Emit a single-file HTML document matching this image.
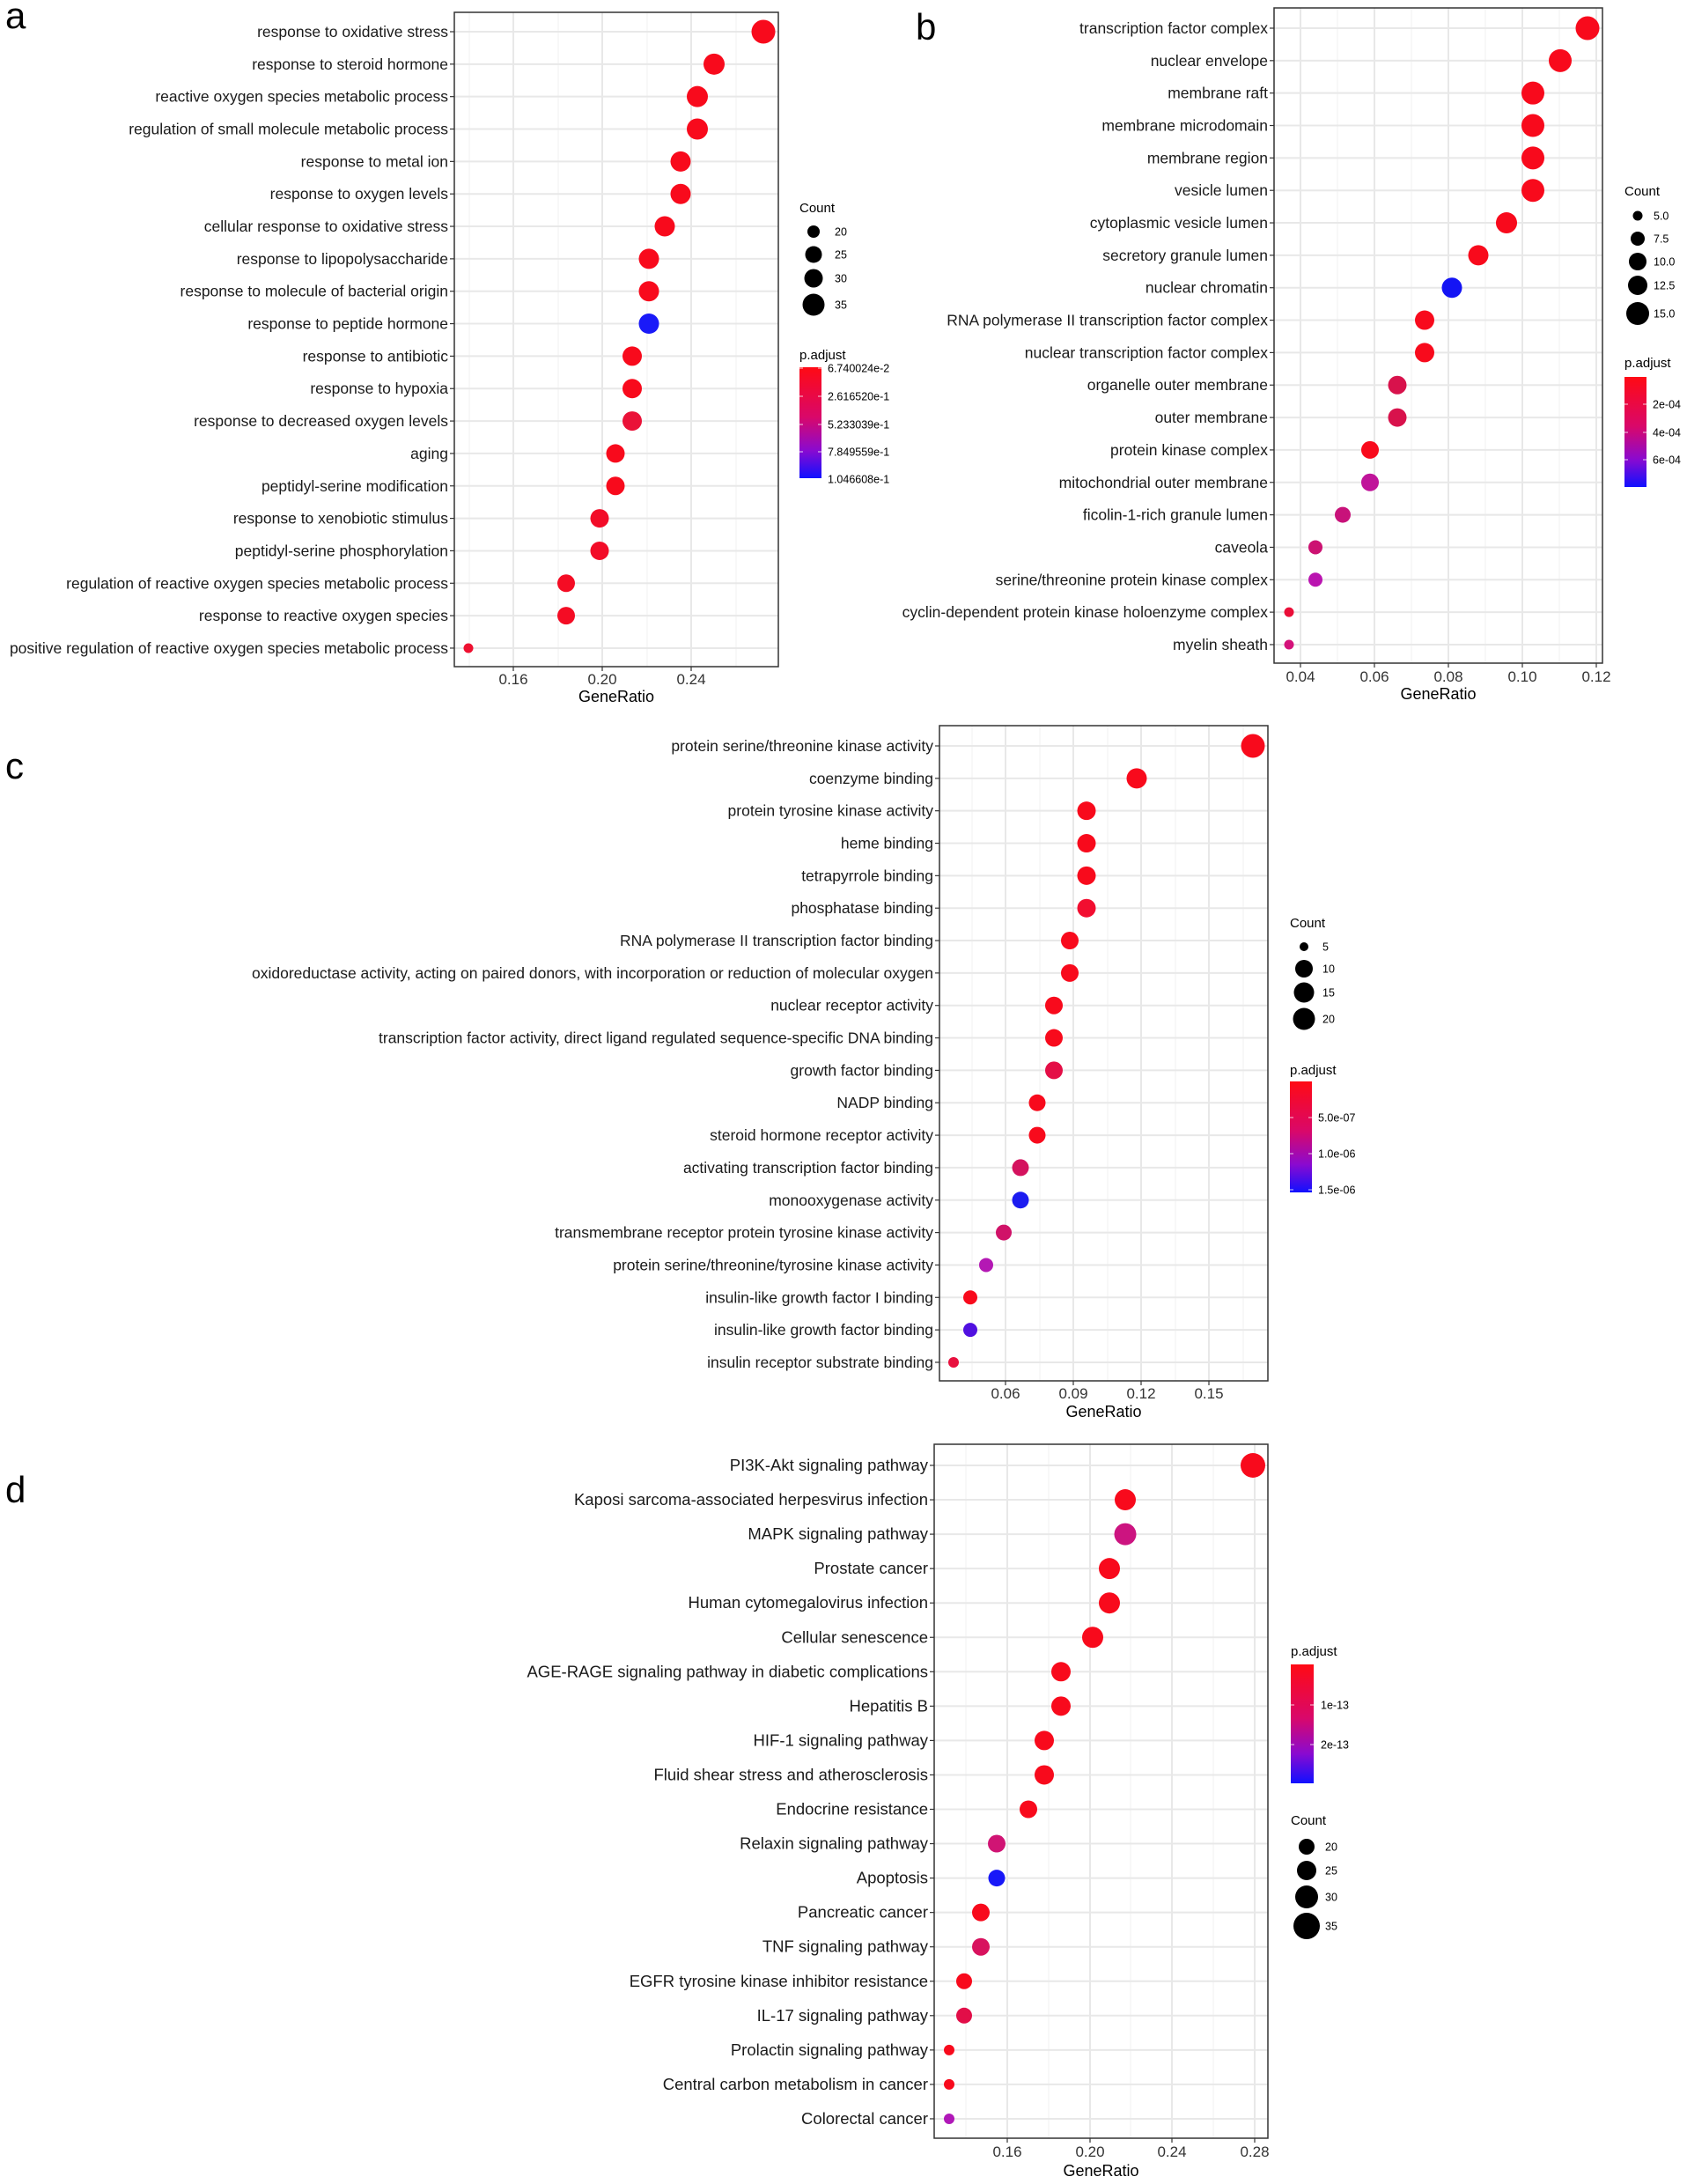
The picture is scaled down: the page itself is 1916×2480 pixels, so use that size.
<!DOCTYPE html>
<html><head><meta charset="utf-8"><style>
html,body{margin:0;padding:0;background:#fff;}
svg{display:block;font-family:"Liberation Sans",Arial,sans-serif;}
</style></head><body>
<svg id="s" width="1916" height="2480" viewBox="0 0 1916 2480" xmlns="http://www.w3.org/2000/svg">
<defs>
<linearGradient id="g" x1="0" y1="0" x2="0" y2="1">
<stop offset="0" stop-color="#ff0a14"/><stop offset="0.45" stop-color="#d9086a"/><stop offset="0.75" stop-color="#8a0ad0"/><stop offset="1" stop-color="#1010ff"/>
</linearGradient>
</defs>
<text x="6" y="32" font-size="42">a</text>
<text x="1040" y="45" font-size="42">b</text>
<text x="6" y="884" font-size="42">c</text>
<text x="6" y="1706" font-size="42">d</text>
</svg>
<script>
var S=document.getElementById('s'),NS='http://www.w3.org/2000/svg';
function el(t,a,txt){var e=document.createElementNS(NS,t);for(var k in a)e.setAttribute(k,a[k]);if(txt!=null)e.textContent=txt;S.appendChild(e);return e;}
var R='#f80a1c';
function panel(o){
 el('rect',{x:o.l,y:o.t,width:o.r-o.l,height:o.b-o.t,fill:'#fff'});
 o.minors.forEach(function(x){el('line',{x1:x,x2:x,y1:o.t,y2:o.b,stroke:'#f2f2f2','stroke-width':1});});
 o.majors.forEach(function(m){el('line',{x1:m[0],x2:m[0],y1:o.t,y2:o.b,stroke:'#e8e8e8','stroke-width':2});});
 o.rows.forEach(function(r,i){var y=o.y0+i*o.dy;
  el('line',{x1:o.l,x2:o.r,y1:y,y2:y,stroke:'#e8e8e8','stroke-width':2});});
 o.rows.forEach(function(r,i){var y=o.y0+i*o.dy;
  el('ellipse',{cx:r[1],cy:y,rx:r[2]/2,ry:r[2]/2,fill:r[3]||R});
  el('line',{x1:o.l-5,x2:o.l,y1:y,y2:y,stroke:'#333','stroke-width':1.2});
  el('text',{x:o.l-7,y:y+6,'font-size':o.fs||17.5,'text-anchor':'end',fill:'#1a1a1a'},r[0]);});
 el('rect',{x:o.l,y:o.t,width:o.r-o.l,height:o.b-o.t,fill:'none',stroke:'#333','stroke-width':1.5});
 o.majors.forEach(function(m){el('line',{x1:m[0],x2:m[0],y1:o.b,y2:o.b+5,stroke:'#333','stroke-width':1.2});
  el('text',{x:m[0],y:o.ty,'font-size':17,'text-anchor':'middle',fill:'#333'},m[1]);});
 el('text',{x:(o.l+o.r)/2,y:o.gy,'font-size':18,'text-anchor':'middle',fill:'#000'},'GeneRatio');
}
function count(x,ty,items,lx){el('text',{x:x,y:ty,'font-size':15},'Count');
 items.forEach(function(it){el('circle',{cx:it[0],cy:it[1],r:it[2]/2,fill:'#000'});el('text',{x:lx,y:it[1]+4.5,'font-size':12.5},it[3]);});}
function bar(x,ty,y1,y2,w,labs,lx){el('text',{x:x,y:ty,'font-size':15},'p.adjust');
 el('rect',{x:x,y:y1,width:w,height:y2-y1,fill:'url(#g)'});
 labs.forEach(function(l){el('line',{x1:x,x2:x+4,y1:l[0],y2:l[0],stroke:'#fff','stroke-width':1,opacity:0.8});el('line',{x1:x+w-4,x2:x+w,y1:l[0],y2:l[0],stroke:'#fff','stroke-width':1,opacity:0.8});
  el('text',{x:lx,y:l[0]+4.5,'font-size':12.5},l[1]);});}

// a
panel({l:516,r:884,t:14,b:757,y0:36,dy:36.84,ty:777,gy:797,
 majors:[[583,'0.16'],[684,'0.20'],[785,'0.24']],minors:[533,634,735,836],
 rows:[['response to oxidative stress',867,27],['response to steroid hormone',811,24],['reactive oxygen species metabolic process',792,24],
 ['regulation of small molecule metabolic process',792,24],['response to metal ion',773,23],['response to oxygen levels',773,23],
 ['cellular response to oxidative stress',755,23],['response to lipopolysaccharide',737,23],['response to molecule of bacterial origin',737,23],
 ['response to peptide hormone',737,23,'#1a1af8'],['response to antibiotic',718,22],['response to hypoxia',718,22],
 ['response to decreased oxygen levels',718,22,'#ea1238'],['aging',699,21],['peptidyl-serine modification',699,21],
 ['response to xenobiotic stimulus',681,21,'#f20c28'],['peptidyl-serine phosphorylation',681,21,'#f20c28'],
 ['regulation of reactive oxygen species metabolic process',643,20,'#f40c24'],['response to reactive oxygen species',643,20,'#f40c24'],
 ['positive regulation of reactive oxygen species metabolic process',532,11,'#ee1030']]});
count(908,241,[[924,263,14,'20'],[924,289,19,'25'],[924,316,21,'30'],[924,346,25,'35']],948);
bar(908,408,417,543,25,[[418,'6.740024e-2'],[450,'2.616520e-1'],[482,'5.233039e-1'],[513,'7.849559e-1'],[544,'1.046608e-1']],940);

// b
panel({l:1447,r:1820,t:9,b:753,y0:32,dy:36.84,ty:774,gy:794,
 majors:[[1477,'0.04'],[1561,'0.06'],[1645,'0.08'],[1729,'0.10'],[1813,'0.12']],minors:[1519,1603,1687,1771],
 rows:[['transcription factor complex',1803,27],['nuclear envelope',1772,26],['membrane raft',1741,26],['membrane microdomain',1741,26],
 ['membrane region',1741,26],['vesicle lumen',1741,26],['cytoplasmic vesicle lumen',1711,24],['secretory granule lumen',1679,23],
 ['nuclear chromatin',1649,23,'#1414f4'],['RNA polymerase II transcription factor complex',1618,22],['nuclear transcription factor complex',1618,22],
 ['organelle outer membrane',1587,21,'#d8124c'],['outer membrane',1587,21,'#d8124c'],['protein kinase complex',1556,20],
 ['mitochondrial outer membrane',1556,20,'#c0149a'],['ficolin-1-rich granule lumen',1525,18,'#c8127a'],['caveola',1494,16,'#cc1272'],
 ['serine/threonine protein kinase complex',1494,16,'#ba14b0'],['cyclin-dependent protein kinase holoenzyme complex',1464,11,'#ea0e38'],
 ['myelin sheath',1464,11,'#d4127a']]});
count(1845,222,[[1860,245,11,'5.0'],[1860,271,16,'7.5'],[1860,297,20,'10.0'],[1860,324,22,'12.5'],[1860,356,26,'15.0']],1878);
bar(1845,417,428,553,25,[[459,'2e-04'],[491,'4e-04'],[522,'6e-04']],1877);

// c
panel({l:1067,r:1440,t:824,b:1568,y0:847,dy:36.84,ty:1588,gy:1609,
 majors:[[1142,'0.06'],[1219,'0.09'],[1296,'0.12'],[1373,'0.15']],minors:[1104,1181,1258,1335,1412],
 rows:[['protein serine/threonine kinase activity',1423,27],['coenzyme binding',1291,23],['protein tyrosine kinase activity',1234,21],
 ['heme binding',1234,21],['tetrapyrrole binding',1234,21],['phosphatase binding',1234,21,'#f20e30'],
 ['RNA polymerase II transcription factor binding',1215,20],['oxidoreductase activity, acting on paired donors, with incorporation or reduction of molecular oxygen',1215,20],
 ['nuclear receptor activity',1197,20],['transcription factor activity, direct ligand regulated sequence-specific DNA binding',1197,20],
 ['growth factor binding',1197,20,'#e40e46'],['NADP binding',1178,19],['steroid hormone receptor activity',1178,19],
 ['activating transcription factor binding',1159,19,'#d4125e'],['monooxygenase activity',1159,19,'#1c1cf0'],
 ['transmembrane receptor protein tyrosine kinase activity',1140,18,'#d01268'],['protein serine/threonine/tyrosine kinase activity',1120,16,'#b418b4'],
 ['insulin-like growth factor I binding',1102,16],['insulin-like growth factor binding',1102,16,'#5010e0'],['insulin receptor substrate binding',1083,12,'#e8103e']]});
count(1465,1053,[[1481,1075,10,'5'],[1481,1100,20,'10'],[1481,1127,23,'15'],[1481,1157,25,'20']],1502);
bar(1465,1220,1228,1354,25,[[1269,'5.0e-07'],[1310,'1.0e-06'],[1351,'1.5e-06']],1497);

// d
panel({l:1061,r:1440,t:1640,b:2428,y0:1664,dy:39.05,ty:2449,gy:2471,fs:18.5,
 majors:[[1144,'0.16'],[1238,'0.20'],[1331,'0.24'],[1425,'0.28']],minors:[1097,1191,1284,1378],
 rows:[['PI3K-Akt signaling pathway',1423,28],['Kaposi sarcoma-associated herpesvirus infection',1278,24],['MAPK signaling pathway',1278,25,'#cc1480'],
 ['Prostate cancer',1260,24],['Human cytomegalovirus infection',1260,24],['Cellular senescence',1241,24],
 ['AGE-RAGE signaling pathway in diabetic complications',1205,22],['Hepatitis B',1205,22],['HIF-1 signaling pathway',1186,22],
 ['Fluid shear stress and atherosclerosis',1186,22],['Endocrine resistance',1168,20],['Relaxin signaling pathway',1132,20,'#d01474'],
 ['Apoptosis',1132,19,'#1818f8'],['Pancreatic cancer',1114,20],['TNF signaling pathway',1114,20,'#d8125e'],
 ['EGFR tyrosine kinase inhibitor resistance',1095,18],['IL-17 signaling pathway',1095,18,'#e20e48'],['Prolactin signaling pathway',1078,12],
 ['Central carbon metabolism in cancer',1078,12],['Colorectal cancer',1078,12,'#b018b8']]});
bar(1466,1880,1890,2025,26,[[1936,'1e-13'],[1981,'2e-13']],1500);
count(1466,2072,[[1484,2097,18,'20'],[1484,2124,22,'25'],[1484,2154,26,'30'],[1484,2187,30,'35']],1505);
</script>
</body></html>
